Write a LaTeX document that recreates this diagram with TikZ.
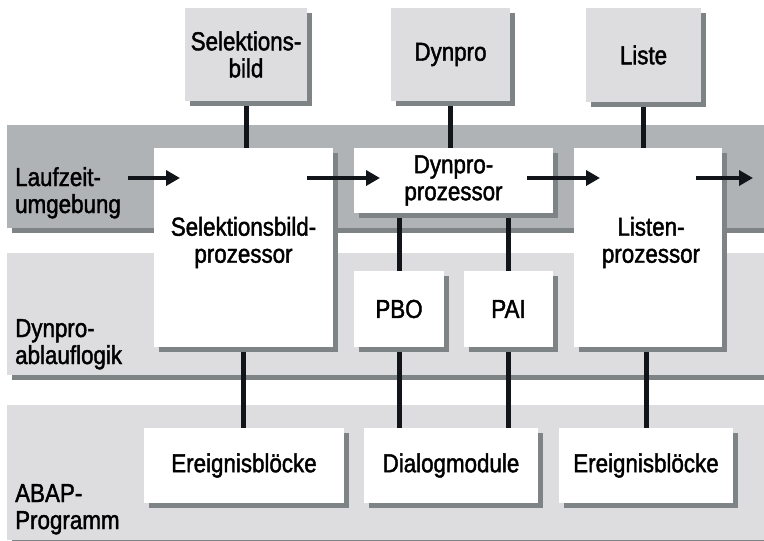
\documentclass[tikz,border=0pt]{standalone}
\usepackage{fontspec}
\newfontfamily\diafont[FakeStretch=0.86,FakeBold=1.6]{Liberation Sans}
\usetikzlibrary{arrows.meta,shadows,backgrounds}

\definecolor{darkband}{HTML}{B0B3B5}
\definecolor{lightband}{HTML}{DDDDDF}
\definecolor{shade}{HTML}{7E8485}
\definecolor{ink}{HTML}{111418}

\begin{document}
\begin{tikzpicture}[x=1pt,y=-1pt,font=\diafont\fontsize{26}{27}\selectfont]

\tikzset{box/.style = {shape=rectangle,fill=white,inner sep=0pt,align=center,
  drop shadow={shadow xshift=5pt,shadow yshift=-5pt,opacity=1,fill=shade}}}
\tikzset{screen/.style = {box,fill=lightband}}
\tikzset{band/.style = {box,anchor=north west,minimum width=757pt}}
\tikzset{layer/.style = {anchor=base west,align=left,inner sep=0pt}}
\tikzset{link/.style = {line width=5pt,draw=ink}}
\tikzset{flow/.style = {line width=4.5pt,draw=ink,-{Triangle[length=14pt,width=15pt]}}}

\useasboundingbox (0,0) rectangle (764,541);

% bands
\begin{scope}[on background layer]
\node[band,fill=darkband,minimum height=103pt] (lzband) at (7,125) {};
\node[band,fill=lightband,minimum height=122pt] (dynband) at (7,253) {};
\node[band,fill=lightband,minimum height=135pt] (abapband) at (7,405) {};
\end{scope}

% band labels
\node[layer] (lzlabel) at (15,213) {Laufzeit-\\umgebung};
\node[layer] (dynlabel) at (15,364) {Dynpro-\\ablauflogik};
\node[layer] (abaplabel) at (15,529) {ABAP-\\Programm};

% screens
\node[screen,minimum width=122pt,minimum height=93pt] (selbild) at (246,54.5) {Selektions-\\bild};
\node[screen,minimum width=119pt,minimum height=93pt] (dynpro) at (450.5,54.5) {Dynpro};
\node[screen,minimum width=115pt,minimum height=94pt] (liste) at (643.5,55) {Liste};

% processors
\node[box,minimum width=179pt,minimum height=199pt,
  label={[align=center,yshift=5pt]center:Selektionsbild-\\prozessor}] (selproz) at (243.5,247.5) {};
\node[box,minimum width=199pt,minimum height=65pt] (dynproz) at (453.5,180.5) {Dynpro-\\prozessor};
\node[box,minimum width=148pt,minimum height=199pt,
  label={[align=center,yshift=5pt,xshift=3pt]center:Listen-\\prozessor}] (lisproz) at (648,247.5) {};
\node[box,minimum width=90pt,minimum height=76pt] (pbo) at (399,309) {PBO};
\node[box,minimum width=89pt,minimum height=76pt] (pai) at (508.5,309) {PAI};

% program blocks
\node[box,minimum width=200pt,minimum height=75pt] (ereig1) at (244,465.5) {Ereignisblöcke};
\node[box,minimum width=174pt,minimum height=75pt] (dialog) at (451,465.5) {Dialogmodule};
\node[box,minimum width=174pt,minimum height=75pt] (ereig2) at (646,465.5) {Ereignisblöcke};

% links
\begin{scope}[on background layer]
\draw[link] (selbild.south) -- (selbild.south |- selproz.north);
\draw[link] (dynpro.south) -- (dynpro.south |- dynproz.north);
\draw[link] (liste.south) -- (liste.south |- lisproz.north);
\draw[link] (pbo.north) -- (pbo.north |- dynproz.south);
\draw[link] (pai.north) -- (pai.north |- dynproz.south);
\draw[link] (pbo.south) -- (pbo.south |- dialog.north);
\draw[link] (pai.south) -- (pai.south |- dialog.north);
\draw[link] (selproz.south) -- (selproz.south |- ereig1.north);
\draw[link] (ereig2.north) -- (ereig2.north |- lisproz.south);
\end{scope}

% flow
\coordinate (in) at (128,178);
\coordinate (selin) at (180,178);
\coordinate (selout) at (307,178);
\coordinate (dynin) at (380,178);
\coordinate (dynout) at (527,178);
\coordinate (lisin) at (600,178);
\coordinate (lisout) at (696,178);
\coordinate (out) at (753,178);
\draw[flow] (in) -- (selin);
\draw[flow] (selout) -- (dynin);
\draw[flow] (dynout) -- (lisin);
\draw[flow] (lisout) -- (out);

\end{tikzpicture}
\end{document}
